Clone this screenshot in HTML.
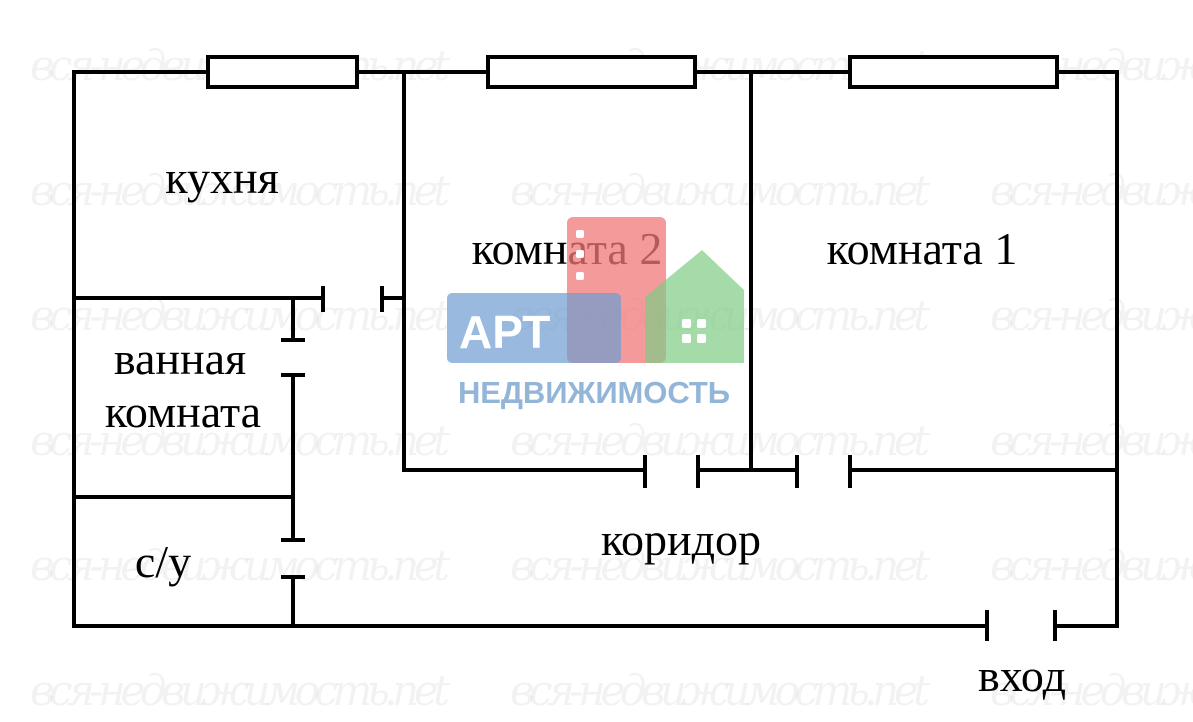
<!DOCTYPE html>
<html><head><meta charset="utf-8"><style>
html,body{margin:0;padding:0;background:#fff;width:1193px;height:722px;overflow:hidden}
svg{display:block}
.t{font-family:"Liberation Serif",serif;font-size:46px;fill:#000}
.w{font-family:"DejaVu Serif",serif;font-style:italic;font-size:42px;fill:#000;fill-opacity:0.05}
</style></head><body>
<svg width="1193" height="722" viewBox="0 0 1193 722">
<g class="w">
<text x="30" y="80" textLength="420">вся-недвижимость.net</text><text x="510" y="80" textLength="420">вся-недвижимость.net</text><text x="990" y="80" textLength="420">вся-недвижимость.net</text>
<text x="30" y="205" textLength="420">вся-недвижимость.net</text><text x="510" y="205" textLength="420">вся-недвижимость.net</text><text x="990" y="205" textLength="420">вся-недвижимость.net</text>
<text x="30" y="330" textLength="420">вся-недвижимость.net</text><text x="510" y="330" textLength="420">вся-недвижимость.net</text><text x="990" y="330" textLength="420">вся-недвижимость.net</text>
<text x="30" y="455" textLength="420">вся-недвижимость.net</text><text x="510" y="455" textLength="420">вся-недвижимость.net</text><text x="990" y="455" textLength="420">вся-недвижимость.net</text>
<text x="30" y="580" textLength="420">вся-недвижимость.net</text><text x="510" y="580" textLength="420">вся-недвижимость.net</text><text x="990" y="580" textLength="420">вся-недвижимость.net</text>
<text x="30" y="705" textLength="420">вся-недвижимость.net</text><text x="510" y="705" textLength="420">вся-недвижимость.net</text><text x="990" y="705" textLength="420">вся-недвижимость.net</text>
</g>
<g stroke="#000" stroke-width="4" fill="none">
<line x1="72" y1="72" x2="1119" y2="72"/>
<line x1="74" y1="70" x2="74" y2="628"/>
<line x1="1117" y1="70" x2="1117" y2="628"/>
<line x1="72" y1="626" x2="987" y2="626"/><line x1="1055" y1="626" x2="1119" y2="626"/>
<line x1="987" y1="610" x2="987" y2="641"/><line x1="1055" y1="610" x2="1055" y2="641"/>
<rect x="208" y="57" width="149" height="30" fill="#fff"/>
<rect x="488" y="57" width="207" height="30" fill="#fff"/>
<rect x="850" y="57" width="207" height="30" fill="#fff"/>
<line x1="404" y1="72" x2="404" y2="472"/>
<line x1="751" y1="72" x2="751" y2="472"/>
<line x1="402" y1="470" x2="645" y2="470"/><line x1="698" y1="470" x2="797" y2="470"/><line x1="850" y1="470" x2="1117" y2="470"/>
<line x1="645" y1="455" x2="645" y2="488"/><line x1="698" y1="455" x2="698" y2="488"/><line x1="797" y1="455" x2="797" y2="488"/><line x1="850" y1="455" x2="850" y2="488"/>
<line x1="74" y1="298" x2="323" y2="298"/><line x1="382" y1="298" x2="404" y2="298"/>
<line x1="323" y1="286" x2="323" y2="312"/><line x1="382" y1="286" x2="382" y2="312"/>
<line x1="293" y1="298" x2="293" y2="340"/><line x1="281" y1="340" x2="305" y2="340"/>
<line x1="293" y1="375" x2="293" y2="540"/><line x1="281" y1="375" x2="305" y2="375"/><line x1="281" y1="540" x2="305" y2="540"/>
<line x1="293" y1="577" x2="293" y2="626"/><line x1="281" y1="577" x2="305" y2="577"/>
<line x1="74" y1="497" x2="293" y2="497"/>
</g>
<text class="t" x="222" y="193" text-anchor="middle">кухня</text>
<text class="t" x="567" y="264" text-anchor="middle">комната 2</text>
<text class="t" x="922" y="264" text-anchor="middle">комната 1</text>
<text class="t" x="180" y="374" text-anchor="middle">ванная</text>
<text class="t" x="183" y="427" text-anchor="middle">комната</text>
<text class="t" x="163" y="577" text-anchor="middle">с/у</text>
<text class="t" x="681" y="555" text-anchor="middle">коридор</text>
<text class="t" x="1022" y="691" text-anchor="middle">вход</text>
<!-- logo -->
<rect x="567" y="217" width="99" height="146" rx="6" fill="#f07878" fill-opacity="0.75"/>
<rect x="447" y="293" width="174" height="70" rx="5" fill="#6e9dd0" fill-opacity="0.7"/>
<polygon points="645,297 702,250 744,290 744,363 645,363" fill="#7fcc84" fill-opacity="0.7"/>
<rect x="576" y="230" width="8" height="8" rx="2" fill="#fff"/><rect x="576" y="250" width="8" height="8" rx="2" fill="#fff"/><rect x="576" y="272" width="8" height="8" rx="2" fill="#fff"/>
<rect x="682" y="319" width="9" height="9" rx="2" fill="#fff"/><rect x="697" y="319" width="9" height="9" rx="2" fill="#fff"/><rect x="682" y="334" width="9" height="9" rx="2" fill="#fff"/><rect x="697" y="334" width="9" height="9" rx="2" fill="#fff"/>
<text x="459" y="348" font-family="Liberation Sans,sans-serif" font-weight="bold" font-size="46" fill="#fff">АРТ</text>
<text x="458" y="403" font-family="Liberation Sans,sans-serif" font-weight="bold" font-size="31" fill="#93b5d8" textLength="272">НЕДВИЖИМОСТЬ</text>
</svg>
</body></html>
